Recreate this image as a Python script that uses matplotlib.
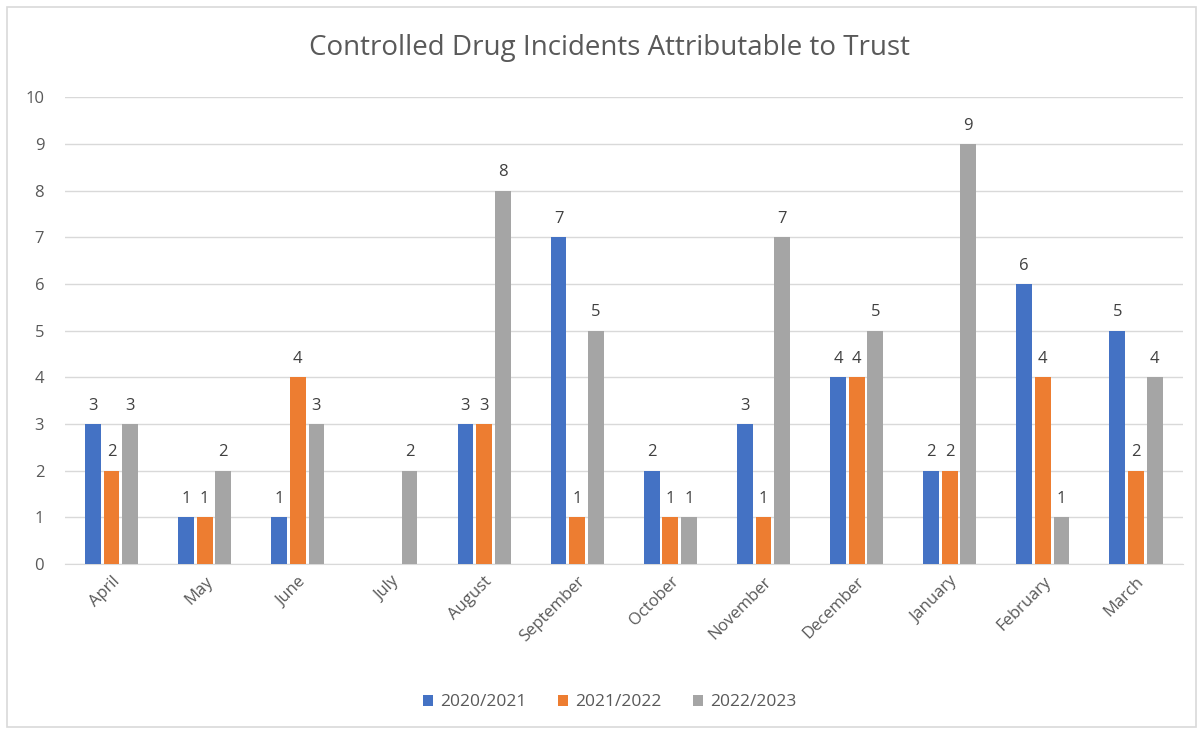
"""
Controlled drug incidents attributable to trust, by month and financial year.
"""

import numpy as np
import matplotlib.pyplot as plt
from matplotlib.patches import Rectangle

months = ['April', 'May', 'June', 'July', 'August', 'September', 'October',
          'November', 'December', 'January', 'February', 'March']
fy_2020_21 = [3, 1, 1, None, 3, 7, 2, 3, 4, 2, 6, 5]
fy_2021_22 = [2, 1, 4, None, 3, 1, 1, 1, 4, 2, 4, 2]
fy_2022_23 = [3, 2, 3, 2, 8, 5, 1, 7, 5, 9, 1, 4]

series = [('2020/2021', fy_2020_21, '#4472C4'),
          ('2021/2022', fy_2021_22, '#ED7D31'),
          ('2022/2023', fy_2022_23, '#A5A5A5')]

plt.rcParams['font.family'] = ['Open Sans', 'DejaVu Sans']
text_col = '#595959'

fig = plt.figure(figsize=(12.03, 7.34), dpi=100)
fig.patches.append(Rectangle((0.006, 0.009), 0.988, 0.982, transform=fig.transFigure,
                             fill=False, edgecolor='#D9D9D9', linewidth=1.2))
ax = fig.add_axes([0.054, 0.2316, 0.929, 0.636])

x = np.arange(len(months))
width = 0.17
step = 0.2
for i, (name, vals, col) in enumerate(series):
    pos = x + (i - 1) * step
    heights = [np.nan if v is None else v for v in vals]
    ax.bar(pos, heights, width, color=col, label=name, zorder=3)
    for p, v in zip(pos, vals):
        if v is not None:
            ax.text(p, v + 0.22, str(v), ha='center', va='bottom',
                    fontsize=12, color='#404040')

ax.set_xlim(-0.5, len(months) - 0.5)
ax.set_ylim(0, 10)
ax.set_yticks(range(0, 11))
ax.set_xticks(x)
ax.set_xticklabels(months, rotation=45, ha='right', rotation_mode='anchor')
ax.tick_params(axis='both', length=0, labelsize=12, colors=text_col)
ax.tick_params(axis='y', pad=15)
ax.tick_params(axis='x', pad=7)
ax.grid(axis='y', color='#D9D9D9', linewidth=1, zorder=0)
for s in ['top', 'right', 'left']:
    ax.spines[s].set_visible(False)
ax.spines['bottom'].set_color('#D9D9D9')

fig.text(0.507, 0.935, 'Controlled Drug Incidents Attributable to Trust',
         ha='center', va='center', fontsize=20, color=text_col)

fig.legend(loc='center', bbox_to_anchor=(0.507, 0.043), ncol=3, frameon=False,
           fontsize=12.5, labelcolor=text_col, handlelength=0.6, handleheight=0.6,
           columnspacing=1.8, handletextpad=0.4)

fig.savefig('out.png', dpi=100)
